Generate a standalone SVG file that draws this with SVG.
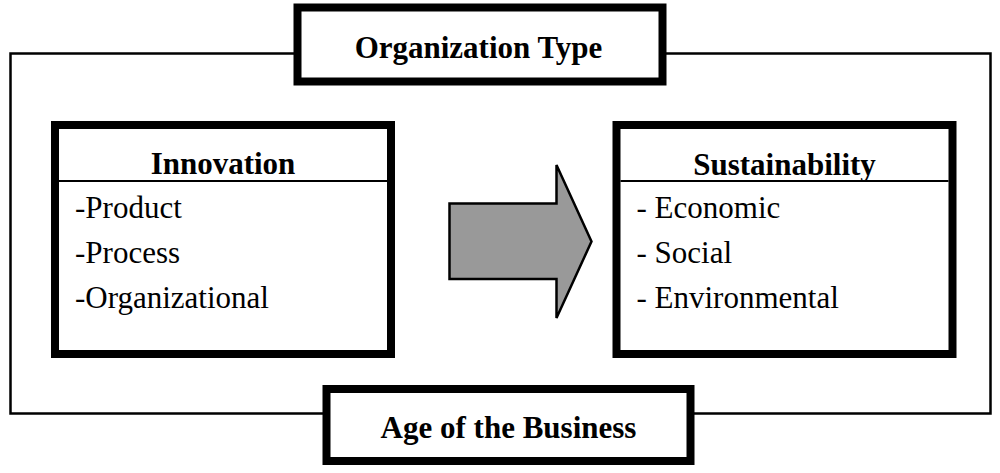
<svg xmlns="http://www.w3.org/2000/svg" width="1000" height="473" viewBox="0 0 1000 473">
<style>
.box{fill:#fff;stroke:#000;stroke-width:8}
.thin{fill:none;stroke:#000;stroke-width:2.5}
.div{stroke:#000;stroke-width:2}
</style>
<rect width="1000" height="473" fill="#fff"/>
<g id="connectors">
<path class="thin" d="M297.5,53.5 H10.5 V413.5 H326.5 M662.5,53.5 H990.5 V413.5 H690.5"/>
<polygon id="arrow" points="449.5,203.5 556.5,203.5 556.5,165 591.5,241.5 556.5,318 556.5,279 449.5,279" fill="#999" stroke="#000" stroke-width="2.5" stroke-linejoin="miter"/>
</g>
<g id="org-type">
<rect class="box" x="297.5" y="7.5" width="365" height="74"/>
<text font-family="Liberation Serif" font-weight="bold" font-size="31" x="478.5" y="58" text-anchor="middle">Organization Type</text>
</g>
<g id="age">
<rect class="box" x="326.5" y="389" width="364" height="72"/>
<text font-family="Liberation Serif" font-weight="bold" font-size="31" x="508.5" y="438" text-anchor="middle">Age of the Business</text>
</g>
<g id="innovation">
<rect class="box" x="55" y="125" width="336" height="229"/>
<line class="div" x1="59" y1="181" x2="387" y2="181"/>
<text font-family="Liberation Serif" font-weight="bold" font-size="31" x="223" y="174" text-anchor="middle">Innovation</text>
<text font-family="Liberation Serif" font-size="31" x="75" y="218">-Product</text>
<text font-family="Liberation Serif" font-size="31" x="75" y="263">-Process</text>
<text font-family="Liberation Serif" font-size="31" x="75" y="308">-Organizational</text>
</g>
<g id="sustainability">
<rect class="box" x="616.5" y="125" width="336" height="229"/>
<line class="div" x1="620.5" y1="181" x2="948.5" y2="181"/>
<text font-family="Liberation Serif" font-weight="bold" font-size="31" x="784.5" y="175" text-anchor="middle">Sustainability</text>
<text font-family="Liberation Serif" font-size="31" x="636.5" y="218">- Economic</text>
<text font-family="Liberation Serif" font-size="31" x="636.5" y="263">- Social</text>
<text font-family="Liberation Serif" font-size="31" x="636.5" y="308">- Environmental</text>
</g>
</svg>
